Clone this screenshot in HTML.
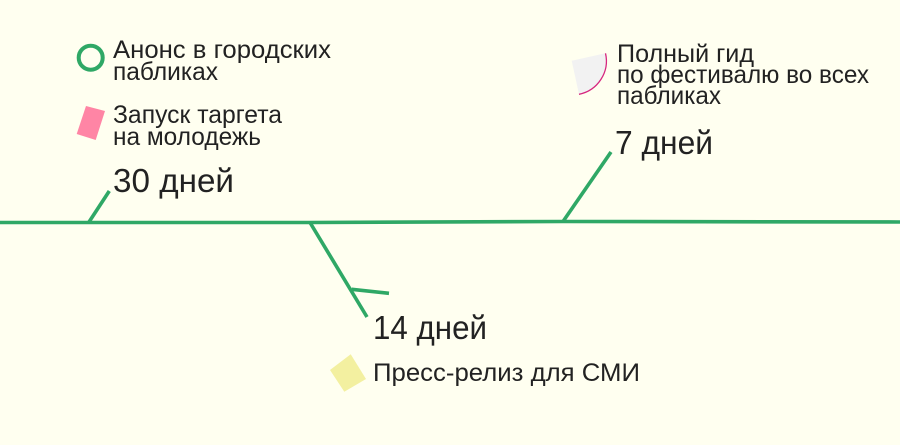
<!DOCTYPE html>
<html><head><meta charset="utf-8"><style>
html,body{margin:0;padding:0;width:900px;height:445px;overflow:hidden;background:#FFFFF0}
svg{display:block}
text{font-family:"Liberation Sans","DejaVu Sans",sans-serif;fill:#222}
.s{font-size:25px}
.b{font-size:33px}
</style></head><body>
<svg width="900" height="445" viewBox="0 0 900 445" xmlns="http://www.w3.org/2000/svg">
<rect width="900" height="445" fill="#FFFFF0"/>
<g fill="none" stroke="#2FA866" stroke-width="3.6">
<path d="M0 222.5L310 222.5L563 221.5L900 222"/>
<path d="M89 222L109.3 191"/>
<path d="M563 221.5L611 152"/>
<path d="M310 222.5L367 317"/>
<path d="M351.7 289.3L389 293.3"/>
</g>
<circle cx="90.7" cy="57.7" r="12" fill="none" stroke="#2FA866" stroke-width="4"/>
<polygon points="86,106 105,111 95.7,140 76.7,134" fill="#FF85A5"/>
<path d="M571.7 60.7L605.5 53.3A34 34 0 0 1 579 94.3Z" fill="#F2F2F2"/>
<path d="M605.5 53.3A34 34 0 0 1 579 94.3" fill="none" stroke="#D6277F" stroke-width="1.3"/>
<polygon points="350.7,354.3 366,379 344.3,391.7 330,370" fill="#F3F0A0"/>
<text class="s" x="113" y="58" textLength="218" lengthAdjust="spacingAndGlyphs">Анонс в городских</text>
<text class="s" x="113" y="80" textLength="105" lengthAdjust="spacingAndGlyphs">пабликах</text>
<text class="s" x="113" y="123" textLength="169" lengthAdjust="spacingAndGlyphs">Запуск таргета</text>
<text class="s" x="113" y="145" textLength="148" lengthAdjust="spacingAndGlyphs">на молодежь</text>
<text class="b" x="113" y="192" textLength="121" lengthAdjust="spacingAndGlyphs">30 дней</text>
<text class="s" x="617" y="62" textLength="137" lengthAdjust="spacingAndGlyphs">Полный гид</text>
<text class="s" x="617" y="83" textLength="252" lengthAdjust="spacingAndGlyphs">по фестивалю во всех</text>
<text class="s" x="617" y="104" textLength="104" lengthAdjust="spacingAndGlyphs">пабликах</text>
<text class="b" x="615" y="154" textLength="98" lengthAdjust="spacingAndGlyphs">7 дней</text>
<text class="b" x="373" y="339" textLength="114" lengthAdjust="spacingAndGlyphs">14 дней</text>
<text class="s" x="373" y="381" textLength="267" lengthAdjust="spacingAndGlyphs">Пресс-релиз для СМИ</text>
</svg>
</body></html>
